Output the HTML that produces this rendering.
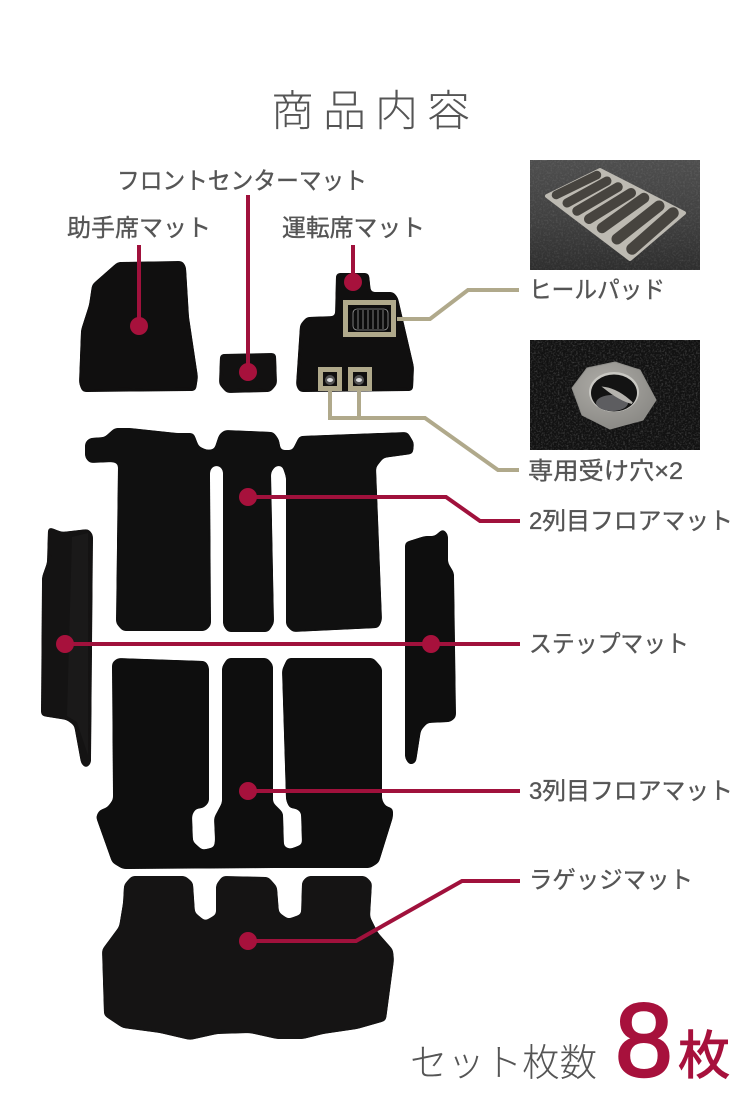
<!DOCTYPE html>
<html lang="ja">
<head>
<meta charset="utf-8">
<title>商品内容</title>
<style>
html,body{margin:0;padding:0;background:#fff;}
svg{display:block;}
text{font-family:"Liberation Sans","Noto Sans CJK JP",sans-serif;fill:#555;}
.l{font-size:24px;stroke:#555;stroke-width:.35px;}
.m polygon{stroke-width:2;stroke-linejoin:round;}
.c{stroke:#a0113c;stroke-width:4;fill:none;}
.b{stroke:#b0a98b;fill:none;}
.d{fill:#a7113c;}
</style>
</head>
<body>
<svg xmlns="http://www.w3.org/2000/svg" width="750" height="1100" viewBox="0 0 750 1100">
<defs>
<filter id="n" x="0" y="0" width="100%" height="100%">
<feTurbulence type="fractalNoise" baseFrequency="0.55" numOctaves="3" seed="4"/>
<feColorMatrix values="0 0 0 0 1  0 0 0 0 1  0 0 0 0 1  1.6 0 0 0 -0.72"/>
</filter>
<filter id="g" x="-5%" y="-5%" width="110%" height="110%" color-interpolation-filters="sRGB">
<feGaussianBlur in="SourceGraphic" stdDeviation="2.2"/>
<feColorMatrix values="1 0 0 0 0  0 1 0 0 0  0 0 1 0 0  0 0 0 14 -6.5"/>
</filter>
<linearGradient id="cp" x1="0" y1="0" x2="0" y2="1">
<stop offset="0" stop-color="#4e4e4e"/><stop offset=".55" stop-color="#404040"/><stop offset="1" stop-color="#2e2e2e"/>
</linearGradient>
<radialGradient id="sil" cx=".4" cy=".35" r=".8">
<stop offset="0" stop-color="#aeaca7"/><stop offset="1" stop-color="#84837f"/>
</radialGradient>
</defs>
<rect width="750" height="1100" fill="#fff"/>

<text x="271" y="126" style="font-size:43px;font-weight:300;letter-spacing:9px">商品内容</text>
<text class="l" x="117" y="189" textLength="250" lengthAdjust="spacingAndGlyphs">フロントセンターマット</text>
<text class="l" x="67" y="236" textLength="144" lengthAdjust="spacingAndGlyphs">助手席マット</text>
<text class="l" x="282" y="236" textLength="143" lengthAdjust="spacingAndGlyphs">運転席マット</text>
<text class="l" x="529" y="298" textLength="136" lengthAdjust="spacingAndGlyphs">ヒールパッド</text>
<text class="l" x="528" y="479" textLength="155" lengthAdjust="spacingAndGlyphs">専用受け穴×2</text>
<text class="l" x="529" y="529" textLength="204" lengthAdjust="spacingAndGlyphs">2列目フロアマット</text>
<text class="l" x="529" y="652" textLength="160" lengthAdjust="spacingAndGlyphs">ステップマット</text>
<text class="l" x="529" y="799" textLength="204" lengthAdjust="spacingAndGlyphs">3列目フロアマット</text>
<text class="l" x="529" y="888" textLength="164" lengthAdjust="spacingAndGlyphs">ラゲッジマット</text>
<text x="410" y="1076" style="font-size:38px;font-weight:300" textLength="187" lengthAdjust="spacingAndGlyphs">セット枚数</text>
<text x="615" y="1076" style="font-size:104px;fill:#a7113c;stroke:#a7113c;stroke-width:2.4px">8</text>
<text x="678" y="1074" style="font-size:52px;fill:#a7113c;stroke:#a7113c;stroke-width:1.1px">枚</text>

<!-- heel pad photo -->
<rect x="530" y="160" width="170" height="110" fill="url(#cp)"/>
<rect x="530" y="160" width="170" height="110" filter="url(#n)" opacity=".15"/>
<polygon points="547,196 600,170 684,213 630,259" fill="#bdbab2" stroke="#bdbab2" stroke-width="4" stroke-linejoin="round"/>
<g stroke="#47443f" stroke-linecap="round">
<line x1="556" y1="195" x2="597" y2="175" stroke-width="8.500"/>
<line x1="567" y1="203" x2="607" y2="181" stroke-width="9"/>
<line x1="577" y1="211" x2="618" y2="187" stroke-width="9.500"/>
<line x1="589" y1="219" x2="631" y2="193" stroke-width="10"/>
<line x1="602" y1="228" x2="644" y2="198" stroke-width="10.500"/>
<line x1="617" y1="239" x2="659" y2="206" stroke-width="11"/>
<line x1="632" y1="249" x2="673" y2="213" stroke-width="11.500"/>
</g>
<!-- grommet photo -->
<rect x="530" y="340" width="170" height="110" fill="#121212"/>
<rect x="530" y="340" width="170" height="110" filter="url(#n)" opacity=".28"/>
<polygon points="572,388 587,368 615,362 640,370 656,400 643,420 610,429 582,415" fill="url(#sil)" stroke="#8f8e8a" stroke-width="1" stroke-linejoin="round"/>
<ellipse cx="614" cy="392" rx="25" ry="20" fill="#c9c8c3"/>
<ellipse cx="614" cy="393" rx="23" ry="18.500" fill="#131313"/>
<ellipse cx="612" cy="403" rx="16" ry="8" fill="#5d5d60"/>
<path d="M605 388 Q618 390 632 403 Q620 400 605 388Z" fill="#b5b3ae" stroke="#b5b3ae" stroke-width="2"/>

<!-- mats -->
<g class="m" filter="url(#g)">
<polygon fill="#100f0f" stroke="#100f0f" points="118,263 182,262 185,267 188,317 197,377 195,390 83,391 80,383 82,330 90,305 93,285"/>
<polygon fill="#121111" stroke="#121111" points="221,355 275,354 276,384 270,391 227,392 220,384"/>
<polygon fill="#100f0f" stroke="#100f0f" points="337,274 368,274 370,293 393,293 397,298 413,367 412,390 300,391 297,385 301,325 307,318 336,317"/>
<polygon fill="#101010" stroke="#101010" points="86,443 90,439 105,438 115,429 130,429 177,434 193,434 198,447 207,451 215,450 220,435 225,431 273,433 278,440 280,451 293,451 300,437 407,433 413,443 412,453 383,457 375,467 381,620 378,627 293,631 287,625 287,477 283,465 275,465 270,472 273,623 268,631 228,631 224,625 224,470 220,465 213,465 209,470 210,625 205,630 123,630 117,623 119,463 113,461 90,462 86,457"/>
<polygon fill="#141313" stroke="#141313" points="49,528 62,533 88,530 92,535 90,763 86,767 82,763 75,725 67,719 42,715 43,577 48,563"/>
<polygon fill="#0e0e0e" stroke="#0e0e0e" points="443,530 447,535 447,563 453,573 455,717 450,721 427,722 420,730 415,762 410,764 406,758 406,543 425,537 435,537"/>
<polygon fill="#0e0e0e" stroke="#0e0e0e" points="113,663 118,659 205,662 208,667 208,802 203,807 195,808 191,815 192,842 202,851 215,848 216,840 215,818 223,803 223,667 228,659 267,659 272,665 272,803 282,813 283,847 290,850 303,845 302,812 297,808 290,807 287,800 283,670 288,659 373,659 381,668 381,800 385,807 392,809 392,817 378,862 370,867 280,867 123,868 113,862 97,817 100,811 108,808 114,800"/>
<polygon fill="#151414" stroke="#151414" points="125,885 132,877 185,877 192,883 194,913 205,922 217,915 217,885 223,877 268,878 276,887 278,913 288,920 302,915 303,882 308,877 365,877 371,883 369,917 377,933 392,950 393,960 385,1020 357,1028 323,1033 303,1038 277,1038 250,1032 217,1033 190,1039 160,1032 123,1027 105,1015 103,950 120,927 124,903"/>
</g>
<polygon points="72,537 88,533 88,755 77,722 67,716" fill="#1a1919"/>
<polygon points="352,308 389,308 389,331 352,331" fill="#0b0b0b"/>
<g fill="none" stroke="#9a9a9a" stroke-width=".8">
<rect x="353" y="309" width="35" height="21" rx="4"/>
<path d="M358 310V329M363 310V329M368 310V329M373 310V329M378 310V329M383 310V329"/>
</g>
<circle cx="330" cy="380" r="5" fill="#555"/><ellipse cx="330" cy="380" rx="3" ry="2" fill="#ddd"/>
<circle cx="359" cy="380" r="5" fill="#555"/><ellipse cx="359" cy="380" rx="3" ry="2" fill="#ddd"/>

<!-- beige callouts -->
<rect class="b" stroke-width="5" x="345.500" y="302.500" width="48" height="32"/>
<rect class="b" stroke-width="5" x="320.500" y="369.500" width="19" height="19"/>
<rect class="b" stroke-width="5" x="350.500" y="369.500" width="19" height="19"/>
<polyline class="b" stroke-width="4" points="397,319 430,319 468,290 519,290"/>
<polyline class="b" stroke-width="4" points="330,391 330,418 425,418 498,470 519,470"/>
<line class="b" stroke-width="4" x1="359" y1="391" x2="359" y2="418"/>

<!-- crimson callouts -->
<line class="c" x1="139" y1="245" x2="139" y2="326"/>
<line class="c" x1="248" y1="195" x2="248" y2="372"/>
<line class="c" x1="353" y1="245" x2="353" y2="282"/>
<polyline class="c" points="248,497 446,497 480,521 520,521"/>
<line class="c" x1="65" y1="644" x2="520" y2="644"/>
<line class="c" x1="248" y1="791" x2="520" y2="791"/>
<polyline class="c" points="248,941 356,941 462,881 520,881"/>
<g class="d">
<circle cx="139" cy="326" r="9"/>
<circle cx="248" cy="372" r="9"/>
<circle cx="353" cy="282" r="9"/>
<circle cx="248" cy="497" r="9"/>
<circle cx="65" cy="644" r="9"/>
<circle cx="431" cy="644" r="9"/>
<circle cx="248" cy="791" r="9"/>
<circle cx="248" cy="941" r="9"/>
</g>
</svg>
</body>
</html>
